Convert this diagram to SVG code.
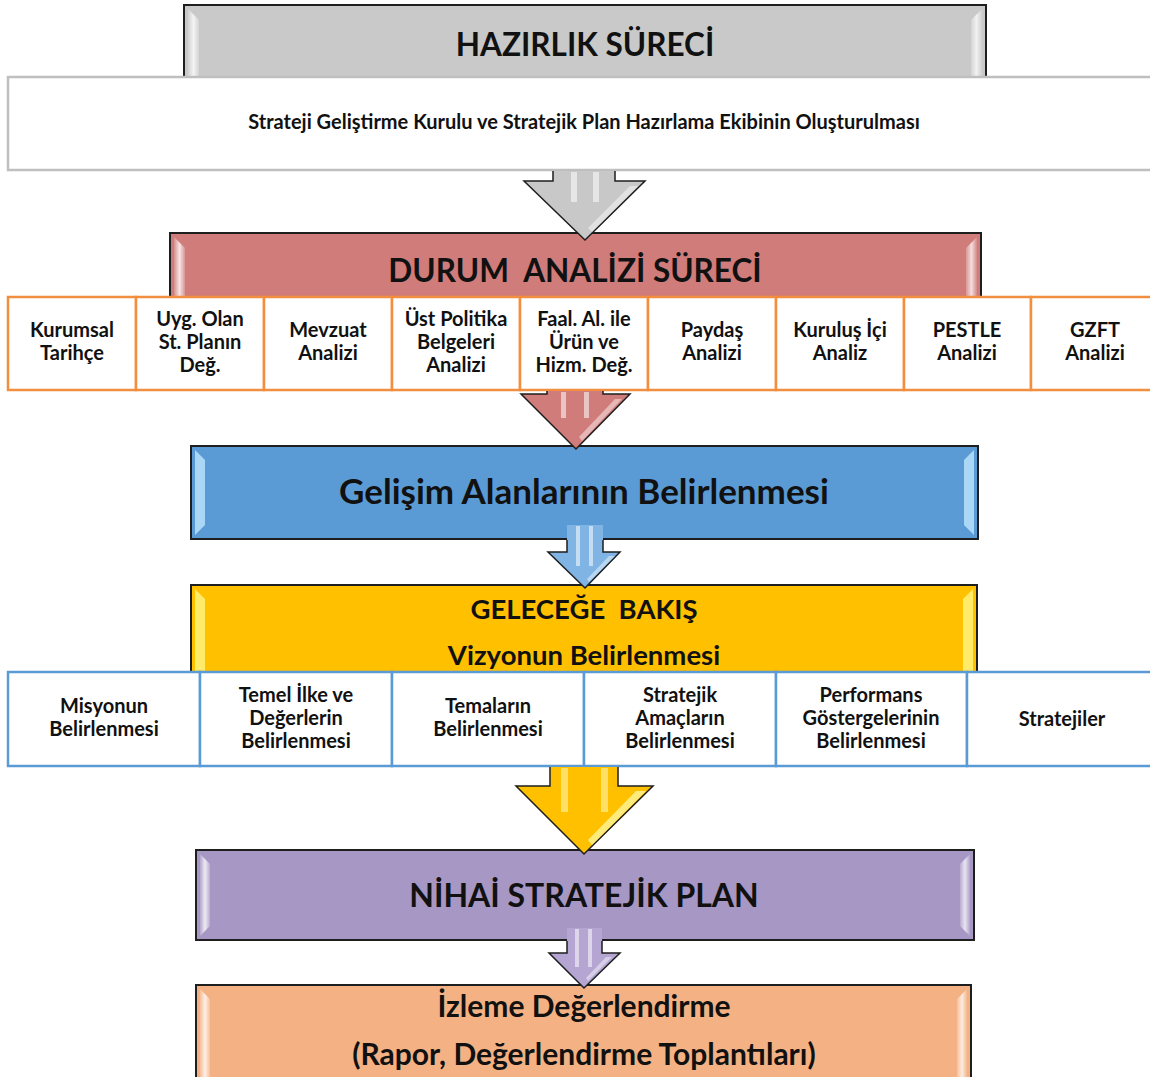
<svg xmlns="http://www.w3.org/2000/svg" width="1150" height="1077" viewBox="0 0 1150 1077">
<defs>
<style>
.hdr{stroke:#1e1e1e;stroke-width:2}
.t{font-family:Lato,"Noto Sans","Liberation Sans",sans-serif;font-weight:700;fill:#111;text-anchor:middle}
.c{font-size:20px}
.oc{fill:#fff;stroke:#f28e3f;stroke-width:2.5}
.bc{fill:#fff;stroke:#5b9bd5;stroke-width:2.5}
.arr{stroke:#1e1e1e;stroke-width:1.5;stroke-linejoin:miter}
.bev{fill:url(#bev)}
.bevr{fill:url(#bevr)}
.stripe{fill:#fff;opacity:0.55}
.shine{fill:#fff;opacity:0.45}
</style>
<linearGradient id="bev" x1="0" y1="0" x2="1" y2="0">
<stop offset="0" stop-color="#fff" stop-opacity="0.15"/>
<stop offset="0.5" stop-color="#fff" stop-opacity="0.8"/>
<stop offset="1" stop-color="#fff" stop-opacity="0.2"/>
</linearGradient>
<linearGradient id="bevr" x1="0" y1="0" x2="1" y2="0">
<stop offset="0" stop-color="#fff" stop-opacity="0.2"/>
<stop offset="0.5" stop-color="#fff" stop-opacity="0.75"/>
<stop offset="1" stop-color="#fff" stop-opacity="0.1"/>
</linearGradient>
</defs>

<g id="hazirlik">
<rect class="hdr" fill="#c9c9c9" x="184" y="5" width="802" height="85"/>
<polygon class="bev" points="188,9 199,20 199,76 188,76"/>
<polygon class="bevr" points="982,9 971,20 971,76 982,76"/>
<text class="t" font-size="31.5" x="585" y="56">HAZIRLIK SÜRECİ</text>
</g>
<g id="kurul">
<rect fill="#fff" stroke="#bfbfbf" stroke-width="2.5" x="8" y="77" width="1150" height="93"/>
<text class="t" font-size="20" x="584" y="129">Strateji Geliştirme Kurulu ve Stratejik Plan Hazırlama Ekibinin Oluşturulması</text>
</g>

<g id="durum">
<rect class="hdr" fill="#cf7c7a" x="170" y="233" width="811" height="70"/>
<polygon class="bev" points="174,237 185,248 185,297 174,297"/>
<polygon class="bevr" points="977,237 966,248 966,297 977,297"/>
<text class="t" font-size="31.5" x="575" y="282">DURUM&#160; ANALİZİ SÜRECİ</text>
</g>
<g id="durum-cells">
<g id="c1"><rect class="oc" x="8" y="297" width="128" height="93"/><text class="t c"><tspan x="72" y="337">Kurumsal</tspan><tspan x="72" y="360">Tarihçe</tspan></text></g>
<g id="c2"><rect class="oc" x="136" y="297" width="128" height="93"/><text class="t c"><tspan x="200" y="326">Uyg. Olan</tspan><tspan x="200" y="349">St. Planın</tspan><tspan x="200" y="372">Değ.</tspan></text></g>
<g id="c3"><rect class="oc" x="264" y="297" width="128" height="93"/><text class="t c"><tspan x="328" y="337">Mevzuat</tspan><tspan x="328" y="360">Analizi</tspan></text></g>
<g id="c4"><rect class="oc" x="392" y="297" width="128" height="93"/><text class="t c"><tspan x="456" y="326">Üst Politika</tspan><tspan x="456" y="349">Belgeleri</tspan><tspan x="456" y="372">Analizi</tspan></text></g>
<g id="c5"><rect class="oc" x="520" y="297" width="128" height="93"/><text class="t c"><tspan x="584" y="326">Faal. Al. ile</tspan><tspan x="584" y="349">Ürün ve</tspan><tspan x="584" y="372">Hizm. Değ.</tspan></text></g>
<g id="c6"><rect class="oc" x="648" y="297" width="128" height="93"/><text class="t c"><tspan x="712" y="337">Paydaş</tspan><tspan x="712" y="360">Analizi</tspan></text></g>
<g id="c7"><rect class="oc" x="776" y="297" width="128" height="93"/><text class="t c"><tspan x="840" y="337">Kuruluş İçi</tspan><tspan x="840" y="360">Analiz</tspan></text></g>
<g id="c8"><rect class="oc" x="904" y="297" width="127" height="93"/><text class="t c"><tspan x="967" y="337">PESTLE</tspan><tspan x="967" y="360">Analizi</tspan></text></g>
<g id="c9"><rect class="oc" x="1031" y="297" width="130" height="93"/><text class="t c"><tspan x="1095" y="337">GZFT</tspan><tspan x="1095" y="360">Analizi</tspan></text></g>
</g>

<g id="gelisim">
<rect class="hdr" fill="#5b9bd5" x="191" y="446" width="787" height="93"/>
<polygon fill="#bfe6ff" opacity="0.8" points="195,450 205,460 205,525 195,535"/>
<polygon fill="#bfe6ff" opacity="0.8" points="974,450 964,460 964,525 974,535"/>
<text class="t" font-size="35" x="584" y="504">Gelişim Alanlarının Belirlenmesi</text>
</g>

<g id="gelecek">
<rect class="hdr" fill="#ffc000" x="191" y="585" width="786" height="95"/>
<polygon fill="#fff27a" opacity="0.85" points="195,589 205,599 205,672 195,672"/>
<polygon fill="#fff27a" opacity="0.85" points="973,589 963,599 963,672 973,672"/>
<text class="t" font-size="27.5" x="584" y="619">GELECEĞE&#160; BAKIŞ</text>
<text class="t" font-size="27.5" x="584" y="665">Vizyonun Belirlenmesi</text>
</g>
<g id="gelecek-cells">
<g id="d1"><rect class="bc" x="8" y="672" width="192" height="94"/><text class="t c"><tspan x="104" y="713">Misyonun</tspan><tspan x="104" y="736">Belirlenmesi</tspan></text></g>
<g id="d2"><rect class="bc" x="200" y="672" width="192" height="94"/><text class="t c"><tspan x="296" y="702">Temel İlke ve</tspan><tspan x="296" y="725">Değerlerin</tspan><tspan x="296" y="748">Belirlenmesi</tspan></text></g>
<g id="d3"><rect class="bc" x="392" y="672" width="192" height="94"/><text class="t c"><tspan x="488" y="713">Temaların</tspan><tspan x="488" y="736">Belirlenmesi</tspan></text></g>
<g id="d4"><rect class="bc" x="584" y="672" width="192" height="94"/><text class="t c"><tspan x="680" y="702">Stratejik</tspan><tspan x="680" y="725">Amaçların</tspan><tspan x="680" y="748">Belirlenmesi</tspan></text></g>
<g id="d5"><rect class="bc" x="776" y="672" width="191" height="94"/><text class="t c"><tspan x="871" y="702">Performans</tspan><tspan x="871" y="725">Göstergelerinin</tspan><tspan x="871" y="748">Belirlenmesi</tspan></text></g>
<g id="d6"><rect class="bc" x="967" y="672" width="195" height="94"/><text class="t c"><tspan x="1062" y="726">Stratejiler</tspan></text></g>
</g>

<g id="nihai">
<rect class="hdr" fill="#a697c4" x="196" y="850" width="778" height="90"/>
<polygon class="bev" points="200,854 210,864 210,926 200,936"/>
<polygon class="bevr" points="970,854 960,864 960,926 970,936"/>
<text class="t" font-size="32" x="584" y="907">NİHAİ STRATEJİK PLAN</text>
</g>

<g id="izleme">
<rect class="hdr" fill="#f4b183" x="196" y="985" width="775" height="100"/>
<polygon class="bev" points="200,989 210,999 210,1077 200,1077"/>
<polygon class="bevr" points="967,989 957,999 957,1077 967,1077"/>
<text class="t" font-size="30" font-weight="600" x="584" y="1017">İzleme Değerlendirme</text>
<text class="t" font-size="30" font-weight="600" x="584" y="1065">(Rapor, Değerlendirme Toplantıları)</text>
</g>

<g id="connectors">
<g id="arrow1">
<path class="arr" fill="#c8c8c8" d="M553,171 L553,181 L524,181 L585,240 L645,181 L615,181 L615,171"/>
<rect class="stripe" x="571" y="172" width="6" height="30"/><rect class="stripe" x="593" y="172" width="6" height="30"/>
<polygon class="shine" points="630,186 638,186 592,232 588,228"/>
</g>
<g id="arrow2">
<path class="arr" fill="#cf7c7a" d="M547,391 L547,394 L521,394 L576,449 L630,394 L603,394 L603,391"/>
<rect class="stripe" x="561" y="392" width="5" height="26"/><rect class="stripe" x="584" y="392" width="5" height="26"/>
<polygon class="shine" points="615,399 622,399 582,441 579,437"/>
</g>
<g id="arrow3">
<rect fill="#7fb4e4" x="567" y="525" width="36" height="16"/>
<path class="arr" fill="#7fb4e4" d="M567,540 L567,552 L548,552 L585,588 L620,552 L603,552 L603,540"/>
<rect class="stripe" x="576" y="526" width="4" height="40"/><rect class="stripe" x="589" y="526" width="4" height="40"/>
<polygon class="shine" points="609,556 615,556 589,582 587,579"/>
</g>
<g id="arrow4">
<path class="arr" fill="#ffc000" d="M550,767 L550,786 L516,786 L584,854 L653,786 L618,786 L618,767"/>
<rect fill="#ffe680" opacity="0.8" x="561" y="768" width="7" height="44"/><rect fill="#ffe680" opacity="0.8" x="601" y="768" width="7" height="44"/>
<polygon fill="#fff59a" opacity="0.8" points="636,791 646,791 592,845 588,840"/>
</g>
<g id="arrow5">
<rect fill="#b4a5d2" x="567" y="928" width="35" height="13"/>
<path class="arr" fill="#b4a5d2" d="M567,941 L567,953 L549,953 L584,988 L620,953 L602,953 L602,941"/>
<rect class="stripe" x="575" y="929" width="4" height="38"/><rect class="stripe" x="588" y="929" width="4" height="38"/>
<polygon class="shine" points="606,957 612,957 588,981 586,978"/>
</g>
</g>
</svg>
